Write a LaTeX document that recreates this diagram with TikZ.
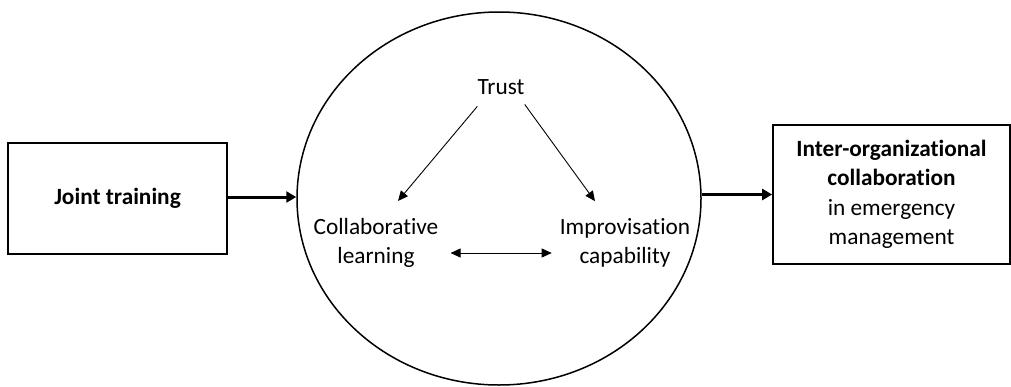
\documentclass[tikz,border=0pt]{standalone}
\usepackage{fontspec}
\setmainfont[Ligatures={NoCommon,NoContextual,NoRequired}]{Carlito}
\usetikzlibrary{arrows.meta,shapes.geometric,calc}
\begin{document}
\begin{tikzpicture}[x=1pt,y=-1pt,
  txt/.style={inner sep=0pt, align=center, font=\fontsize{23.3}{29.5}\selectfont},
  boxnode/.style={draw, line width=1.8pt, inner sep=0pt, align=center, font=\fontsize{23.3}{29.5}\selectfont},
  bigarrow/.style={line width=3pt, -{Triangle[length=10pt,width=11pt]}},
  thinarrow/.style={line width=0.9pt, -{Triangle[length=10pt,width=9pt]}},
  dblarrow/.style={line width=0.9pt, {Triangle[length=10pt,width=9pt]}-{Triangle[length=10pt,width=9pt]}}
]
\useasboundingbox (0,0) rectangle (1011,386);
\node[boxnode, minimum width=219pt, minimum height=111pt] (joint) at (117.5,198.5) {\textbf{Joint training}};
\node[draw, ellipse, line width=1.5pt, minimum width=404pt, minimum height=373pt, inner sep=0pt] (circ) at (499,198.5) {};
\node[boxnode, minimum width=237pt, minimum height=139pt] (outcome) at (891.5,194.5)
  {\textbf{Inter-organizat\kern0pt ional}\\\textbf{collaborat\kern0pt ion}\\in emergency\\management};
\node[txt, anchor=base] (trust) at (501,94) {Trust};
\node[txt] (collab) at (376,243) {Collaborat\kern0pt ive\\learning};
\node[txt] (improv) at (625,243) {Improvisat\kern0pt ion\\capability};
\draw[bigarrow] (joint.east |- 0,197) -- (circ.west |- 0,197);
\draw[bigarrow] (circ.east |- outcome.west) -- (outcome.west);
\draw[thinarrow] ([yshift=-12pt]trust.south west) -- ([xshift=22pt,yshift=17pt]collab.north);
\draw[thinarrow] ([yshift=-10pt]trust.south east) -- ([xshift=-30pt,yshift=17pt]improv.north);
\draw[dblarrow] ([xshift=12pt,yshift=-10pt]collab.east) -- ([xshift=-8pt,yshift=-10pt]improv.west);
\end{tikzpicture}
\end{document}
